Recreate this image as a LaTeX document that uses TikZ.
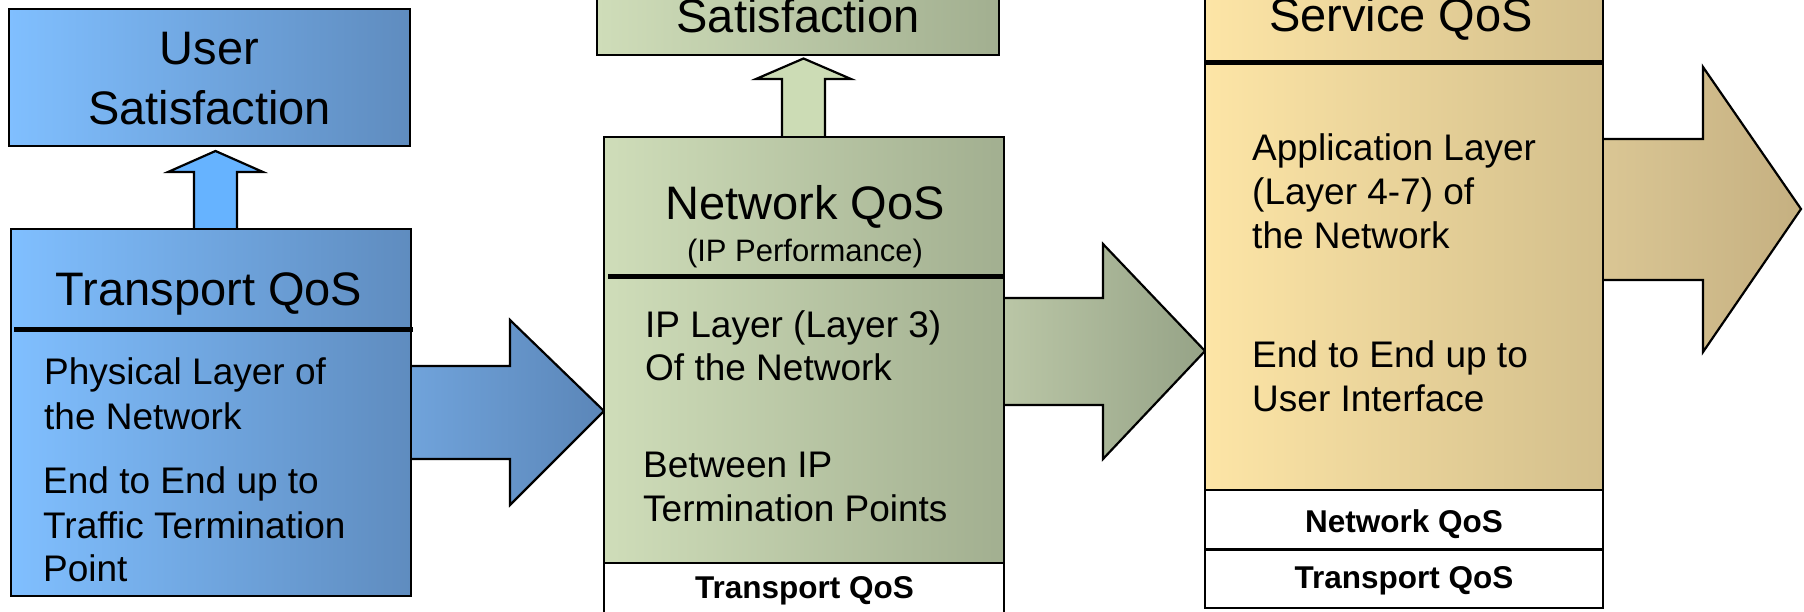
\documentclass[tikz,border=0pt]{standalone}
\usepackage{fontspec}
\setmainfont{Liberation Sans}
\usetikzlibrary{calc,backgrounds}
\definecolor{bluL}{HTML}{80BFFF}
\definecolor{bluR}{HTML}{5F8CBF}
\definecolor{bluAL}{HTML}{70A3DB}
\definecolor{bluAR}{HTML}{5B86B8}
\definecolor{bluUp}{HTML}{66B3FF}
\definecolor{grnL}{HTML}{CFDDB9}
\definecolor{grnR}{HTML}{A2AF90}
\definecolor{grnAL}{HTML}{BAC6A6}
\definecolor{grnAR}{HTML}{96A387}
\definecolor{grnUp}{HTML}{CCDCB5}
\definecolor{tanL}{HTML}{FDE5A6}
\definecolor{tanR}{HTML}{D3BF8C}
\definecolor{tanAL}{HTML}{DAC694}
\definecolor{tanAR}{HTML}{C5B081}
\begin{document}
\begin{tikzpicture}[x=1pt,y=-1pt,
  box/.style={draw=black, line width=2.2pt, rectangle, inner sep=0pt, outer sep=0pt, anchor=north west},
  bluebox/.style={box, left color=bluL, right color=bluR},
  greenbox/.style={box, left color=grnL, right color=grnR},
  tanbox/.style={box, left color=tanL, right color=tanR},
  whitebox/.style={box, fill=white},
  blockarrow/.style={draw=black, line width=2.2pt, line join=miter},
  divider/.style={draw=black, line width=5pt},
  title/.style={font=\fontsize{47}{56}\selectfont, inner sep=0pt, anchor=base},
  subtitle/.style={font=\fontsize{31}{37}\selectfont, inner sep=0pt, anchor=base},
  body/.style={font=\fontsize{37}{44}\selectfont, inner sep=0pt, anchor=base west},
  small/.style={font=\bfseries\fontsize{31.5}{38}\selectfont, inner sep=0pt, anchor=base}
]
\useasboundingbox (0,0) rectangle (1804,611);
\clip (0,0) rectangle (1804,611);

% ---------- column 1 ----------
\node[bluebox, minimum width=401pt, minimum height=137pt] (us1) at (9,9) {};
\node[bluebox, minimum width=400pt, minimum height=367pt] (tq) at (11,229) {};
\node[title] (us1a) at (209.5,64) {User};
\node[title] (us1b) at (209.5,124) {Satisfaction};
\node[title] (tqt) at (209,305) {Transport QoS};
\draw[divider] ($(tq.west |- 0,329)+(3,0)$) -- ($(tq.east |- 0,329)+(2,0)$);
\node[body] (t1) at (44,384) {Physical Layer of};
\node[body] (t2) at (44,429) {the Network};
\node[body] (t3) at (43,493) {End to End up to};
\node[body] (t4) at (43,538) {Traffic Termination};
\node[body] (t5) at (43,581) {Point};

% ---------- column 2 ----------
\node[greenbox, minimum width=402pt, minimum height=155pt] (us2) at (597,-100) {};
\node[greenbox, minimum width=400pt, minimum height=426pt] (nq) at (604,137) {};
\node[whitebox, minimum width=400pt, minimum height=100pt] (tq2) at (604,563) {};
\node[title] (us2b) at (798,32) {Satisfaction};
\node[title] (nqt) at (805,219.5) {Network QoS};
\node[subtitle] (nqs) at (805,261) {(IP Performance)};
\draw[divider] ($(nq.west |- 0,276)+(4,0)$) -- ($(nq.east |- 0,276)+(1,0)$);
\node[body] (n1) at (645,337) {IP Layer (Layer 3)};
\node[body] (n2) at (645,380) {Of the Network};
\node[body] (n3) at (643,477) {Between IP};
\node[body] (n4) at (643,521) {Termination Points};
\node[small] (tq2t) at (804.5,598) {Transport QoS};

% ---------- column 3 ----------
\node[tanbox, minimum width=398pt, minimum height=590pt] (sq) at (1205,-100) {};
\node[whitebox, minimum width=398pt, minimum height=59.5pt] (nq3) at (1205,490) {};
\node[whitebox, minimum width=398pt, minimum height=58.5pt] (tq3) at (1205,549.5) {};
\node[title] (sqt) at (1401,31) {Service QoS};
\draw[divider] (sq.west |- 0,62.5) -- (sq.east |- 0,62.5);
\node[body] (s1) at (1252,160) {Application Layer};
\node[body] (s2) at (1252,204.6) {(Layer 4-7) of};
\node[body] (s3) at (1252,248.6) {the Network};
\node[body] (s4) at (1252,367) {End to End up to};
\node[body] (s5) at (1252,411) {User Interface};
\node[small] (nq3t) at (1404,532) {Network QoS};
\node[small] (tq3t) at (1404,588.5) {Transport QoS};
\coordinate (tip3) at (1801,209);

% ---------- block arrows (behind the boxes) ----------
\begin{pgfonlayer}{background}
\path[blockarrow, fill=bluUp]
  (194,0 |- tq.north) -- (194,172) -- (168,172) -- ($(215.5,0 |- us1.south)+(0,5)$)
  -- (263,172) -- (237,172) -- (237,0 |- tq.north);
\path[blockarrow, fill=grnUp]
  (782,0 |- nq.north) -- (782,79) -- (756,79) -- ($(803.5,0 |- us2.south)+(0,3.5)$)
  -- (851,79) -- (825,79) -- (825,0 |- nq.north);
\path[blockarrow, left color=bluAL, right color=bluAR]
  (tq.east |- 0,366) -- (510,366) -- (510,320) -- (nq.west |- 0,411)
  -- (510,505) -- (510,459) -- (tq.east |- 0,459);
\path[blockarrow, left color=grnAL, right color=grnAR]
  (nq.east |- 0,298) -- (1103,298) -- (1103,244) -- (sq.west |- 0,351)
  -- (1103,459) -- (1103,405) -- (nq.east |- 0,405);
\path[blockarrow, left color=tanAL, right color=tanAR]
  (sq.east |- 0,139) -- (1703,139) -- (1703,67) -- (tip3)
  -- (1703,352) -- (1703,280) -- (sq.east |- 0,280);
\end{pgfonlayer}
\end{tikzpicture}
\end{document}
